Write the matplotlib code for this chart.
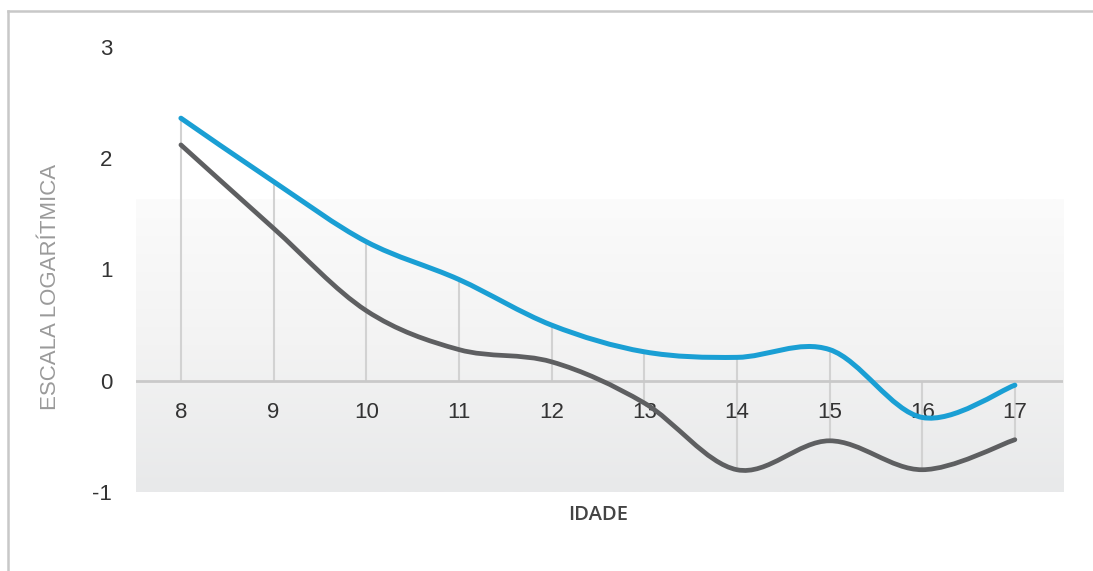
import numpy as np
import matplotlib.pyplot as plt
from matplotlib.path import Path
from matplotlib.patches import PathPatch
from matplotlib.lines import Line2D
from matplotlib.colors import LinearSegmentedColormap

idade = [8, 9, 10, 11, 12, 13, 14, 15, 16, 17]
azul = [2.36, 1.79, 1.25, 0.91, 0.50, 0.26, 0.21, 0.28, -0.33, -0.04]
cinza = [2.12, 1.37, 0.63, 0.28, 0.17, -0.20, -0.80, -0.54, -0.80, -0.53]
y_ticks = [-1, 0, 1, 2, 3]

plt.rcParams['font.family'] = ['Liberation Sans', 'DejaVu Sans']


def smooth_path(xs, ys):
    # catmull-rom -> bezier, curve goes through every point
    p = np.column_stack([xs, ys]).astype(float)
    pts = np.vstack([p[0], p, p[-1]])
    verts = [p[0]]
    codes = [Path.MOVETO]
    for i in range(1, len(pts) - 2):
        c1 = pts[i] + (pts[i + 1] - pts[i - 1]) / 6
        c2 = pts[i + 1] - (pts[i + 2] - pts[i]) / 6
        verts += [c1, c2, pts[i + 1]]
        codes += [Path.CURVE4] * 3
    return Path(verts, codes)


fig = plt.figure(figsize=(10.93, 5.71), dpi=100)
ax = fig.add_axes([0.1244, 0.1384, 0.8482, 0.7793])
ax.set_xlim(7.515, 17.52)
ax.set_ylim(-1, 3)

# gradient background
grad = np.linspace(0, 1, 256).reshape(-1, 1)
cmap = LinearSegmentedColormap.from_list('bg', ['#fbfbfb', '#f3f3f3', '#e8e9ea'])
ax.imshow(grad, cmap=cmap, aspect='auto', extent=(7.515, 17.52, -1, 1.63),
          origin='upper', zorder=0)

# vertical guides
for x, a, c in zip(idade, azul, cinza):
    top = max(a, c, 0)
    bot = min(a, c, 0)
    ax.vlines(x, bot, top, color='#d2d2d2', lw=1.5, zorder=1)

ax.axhline(0, color='#c9c9c9', lw=2, zorder=1)

ax.add_patch(PathPatch(smooth_path(idade, cinza), fill=False, ec='#5e5f61',
                       lw=3.4, capstyle='round', zorder=3))
ax.add_patch(PathPatch(smooth_path(idade, azul), fill=False, ec='#1a9fd4',
                       lw=3.6, capstyle='round', zorder=4))

for s in ax.spines.values():
    s.set_visible(False)

ax.set_yticks(y_ticks)
ax.set_yticklabels([str(v) for v in y_ticks])
ax.set_xticks(idade)
ax.set_xticklabels([str(v) for v in idade])
ax.spines['bottom'].set_position(('data', 0))
ax.tick_params(axis='y', length=0, pad=17, labelsize=16, labelcolor='#333333')
ax.tick_params(axis='x', length=0, pad=15, labelsize=16, labelcolor='#333333')

ax.set_ylabel('ESCALA LOGARÍTMICA', fontsize=16, color='#9a9a9a')
ax.yaxis.set_label_coords(-0.081, 0.461)
fig.text(0.547, 0.098, 'IDADE', ha='center', va='center', fontsize=14.5,
         color='#444444', family=['Open Sans', 'DejaVu Sans'], weight='semibold')

# frame lines
fig.add_artist(Line2D([8 / 1093, 1], [1 - 11 / 571] * 2, color='#c8c8c8', lw=1.8))
fig.add_artist(Line2D([8 / 1093] * 2, [0, 1 - 11 / 571], color='#c8c8c8', lw=1.8))

fig.savefig('out.png', dpi=100)
